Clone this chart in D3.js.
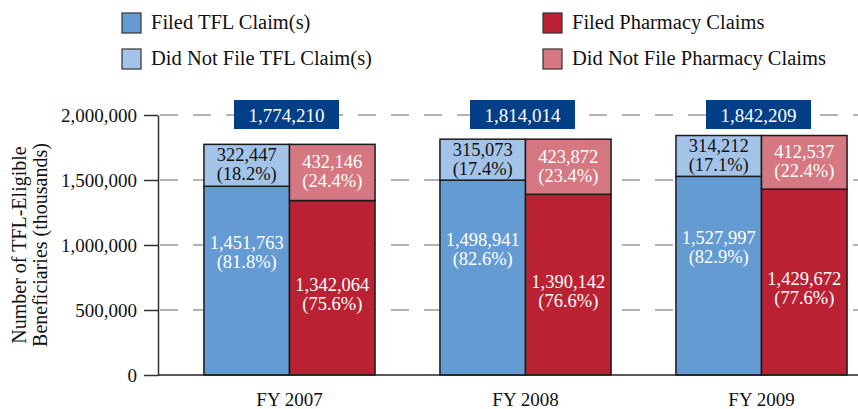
<!DOCTYPE html>
<html>
<head>
<meta charset="utf-8">
<script src="https://cdn.jsdelivr.net/npm/d3@7"></script>
<style>
  body { margin: 0; background: #fff; }
  svg { display: block; font-family: "Liberation Serif", "DejaVu Serif", serif; }
</style>
</head>
<body>
<div id="chart"></div>
<script>
// values
var years = ["FY 2007", "FY 2008", "FY 2009"];
var tflFiled = [1451763, 1498941, 1527997];
var tflFiledPct = [81.8, 82.6, 82.9];
var tflNotFiled = [322447, 315073, 314212];
var tflNotFiledPct = [18.2, 17.4, 17.1];
var rxFiled = [1342064, 1390142, 1429672];
var rxFiledPct = [75.6, 76.6, 77.6];
var rxNotFiled = [432146, 423872, 412537];
var rxNotFiledPct = [24.4, 23.4, 22.4];
var totals = [1774210, 1814014, 1842209];
var yTicks = [0, 500000, 1000000, 1500000, 2000000];

var legendItems = [
    {name: "Filed TFL Claim(s)", color: "#659bd3", col: 0, row: 0},
    {name: "Did Not File TFL Claim(s)", color: "#a4c3e8", col: 0, row: 1},
    {name: "Filed Pharmacy Claims", color: "#ba2234", col: 1, row: 0},
    {name: "Did Not File Pharmacy Claims", color: "#d67881", col: 1, row: 1}
];

var width = 858, height = 409;
var fmt = d3.format(",");

var svg = d3.select("#chart").append("svg")
    .attr("width", width)
    .attr("height", height);

var x = d3.scaleBand()
    .domain(years)
    .range([171.5, 879.5])
    .paddingInner(0.275)
    .paddingOuter(0.1375);

var sub = d3.scaleBand()
    .domain(["tfl", "rx"])
    .range([0, x.bandwidth()]);

var y = d3.scaleLinear()
    .domain([0, 2000000])
    .range([375, 115]);

// dashed grid lines
svg.append("g").selectAll("line")
    .data(yTicks.filter(function(d) { return d > 0; }))
    .enter().append("line")
    .attr("x1", 160).attr("x2", width)
    .attr("y1", function(d) { return y(d); })
    .attr("y2", function(d) { return y(d); })
    .attr("stroke", "#9a9a9a")
    .attr("stroke-width", 1.5)
    .attr("stroke-dasharray", "18,15");

// stacked bars
var segs = [];
years.forEach(function(yr, i) {
    segs.push({yr: yr, s: "tfl", y0: 0, y1: tflFiled[i], color: "#659bd3"});
    segs.push({yr: yr, s: "tfl", y0: tflFiled[i], y1: tflFiled[i] + tflNotFiled[i], color: "#a4c3e8"});
    segs.push({yr: yr, s: "rx", y0: 0, y1: rxFiled[i], color: "#ba2234"});
    segs.push({yr: yr, s: "rx", y0: rxFiled[i], y1: rxFiled[i] + rxNotFiled[i], color: "#d67881"});
});

svg.append("g").selectAll("rect")
    .data(segs)
    .enter().append("rect")
    .attr("x", function(d) { return x(d.yr) + sub(d.s); })
    .attr("width", sub.bandwidth())
    .attr("y", function(d) { return y(d.y1); })
    .attr("height", function(d) { return y(d.y0) - y(d.y1); })
    .attr("fill", function(d) { return d.color; })
    .attr("stroke", "#1a1a1a")
    .attr("stroke-width", 1.5);

// segment labels
var labels = [];
years.forEach(function(yr, i) {
    labels.push({yr: yr, s: "tfl", v: tflFiled[i], p: tflFiledPct[i], mid: tflFiled[i] / 2, off: -32, color: "#fff"});
    labels.push({yr: yr, s: "tfl", v: tflNotFiled[i], p: tflNotFiledPct[i], mid: tflFiled[i] + tflNotFiled[i] / 2, off: -4, color: "#111"});
    labels.push({yr: yr, s: "rx", v: rxFiled[i], p: rxFiledPct[i], mid: rxFiled[i] / 2, off: 3, color: "#fff"});
    labels.push({yr: yr, s: "rx", v: rxNotFiled[i], p: rxNotFiledPct[i], mid: rxFiled[i] + rxNotFiled[i] / 2, off: -4, color: "#fff"});
});

var lab = svg.append("g").selectAll("g")
    .data(labels)
    .enter().append("g")
    .attr("fill", function(d) { return d.color; })
    .attr("font-size", 18.5)
    .attr("text-anchor", "middle")
    .attr("transform", function(d) {
        return "translate(" + (x(d.yr) + sub(d.s) + sub.bandwidth() / 2) + "," + (y(d.mid) + d.off) + ")";
    });
lab.append("text").attr("y", 0).text(function(d) { return fmt(d.v); });
lab.append("text").attr("y", 19).text(function(d) { return "(" + d.p.toFixed(1) + "%)"; });

// total boxes
var tot = svg.append("g").selectAll("g")
    .data(totals)
    .enter().append("g")
    .attr("transform", function(d, i) { return "translate(" + (x(years[i]) + x.bandwidth() / 2 - 3) + "," + y(2000000) + ")"; });
tot.append("rect")
    .attr("x", -52.5).attr("y", -15)
    .attr("width", 105).attr("height", 29)
    .attr("fill", "#033f87");
tot.append("text")
    .attr("text-anchor", "middle")
    .attr("y", 6.5)
    .attr("font-size", 19)
    .attr("fill", "#fff")
    .text(function(d) { return fmt(d); });

// y axis
var yAxis = svg.append("g")
    .attr("transform", "translate(158,0)")
    .call(d3.axisLeft(y).tickValues(yTicks).tickSize(14).tickSizeOuter(0).tickPadding(7).tickFormat(fmt));
yAxis.selectAll("text").attr("font-size", 19).attr("fill", "#111").attr("font-family", "Liberation Serif");
yAxis.selectAll("line").attr("stroke", "#333").attr("stroke-width", 1.5);
yAxis.select(".domain").attr("stroke", "#333").attr("stroke-width", 1.5);

// baseline
svg.append("line")
    .attr("x1", 158).attr("x2", width)
    .attr("y1", y(0)).attr("y2", y(0))
    .attr("stroke", "#222")
    .attr("stroke-width", 1.5);

// x axis labels
var xAxis = svg.append("g")
    .attr("transform", "translate(0," + y(0) + ")")
    .call(d3.axisBottom(x).tickSize(0).tickPadding(18));
xAxis.select(".domain").remove();
xAxis.selectAll("text").attr("font-size", 19).attr("fill", "#111").attr("font-family", "Liberation Serif");

// y axis title
var yt = svg.append("g")
    .attr("font-size", 20)
    .attr("fill", "#111")
    .attr("text-anchor", "middle")
    .attr("transform", "translate(0,245) rotate(-90)");
yt.append("text").attr("y", 26).text("Number of TFL-Eligible");
yt.append("text").attr("y", 46.5).text("Beneficiaries (thousands)");

// legend
var leg = svg.append("g").selectAll("g")
    .data(legendItems)
    .enter().append("g")
    .attr("transform", function(d) { return "translate(" + (122 + d.col * 421) + "," + (13 + d.row * 36) + ")"; });
leg.append("rect")
    .attr("width", 19).attr("height", 20)
    .attr("fill", function(d) { return d.color; })
    .attr("stroke", "#333")
    .attr("stroke-width", 1.2);
leg.append("text")
    .attr("x", 29).attr("y", 15.5)
    .attr("font-size", 20.5)
    .attr("fill", "#111")
    .text(function(d) { return d.name; });
</script>
</body>
</html>
